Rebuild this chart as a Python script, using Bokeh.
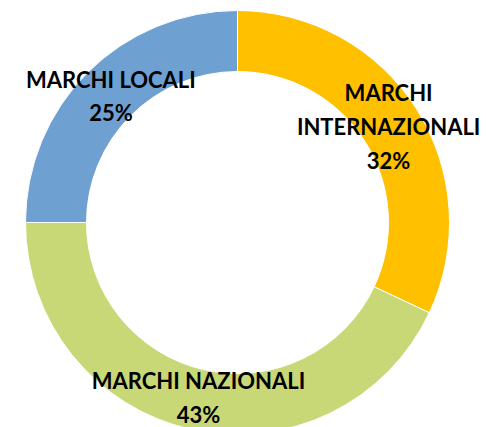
import math
from bokeh.plotting import figure
from bokeh.models import Range1d, ColumnDataSource
from bokeh.core.properties import value
from bokeh.embed import file_html
from bokeh.resources import INLINE

# ---- data ----
categories = ["MARCHI\nINTERNAZIONALI", "MARCHI NAZIONALI", "MARCHI LOCALI"]
shares = [32, 43, 25]
colors = ["#FFC000", "#C9D877", "#6FA0D2"]

# ---- layout ----
cx, cy = 237, -222
r_in, r_out, r_lab = 151, 212, 179

total = sum(shares)
starts, ends, lx, ly, labels = [], [], [], [], []
cum = 0.0
for c, s in zip(categories, shares):
    a0 = math.pi / 2 - 2 * math.pi * cum / total
    cum += s
    a1 = math.pi / 2 - 2 * math.pi * cum / total
    starts.append(a0)
    ends.append(a1)
    mid = (a0 + a1) / 2
    lx.append(cx + r_lab * math.cos(mid))
    ly.append(cy + r_lab * math.sin(mid))
    labels.append(f"{c}\n{s}%")

src = ColumnDataSource(dict(start=starts, end=ends, color=colors,
                            lx=lx, ly=ly, label=labels))

p = figure(width=486, height=427, output_backend="svg", toolbar_location=None,
           x_range=Range1d(0, 486), y_range=Range1d(-427, 0),
           min_border=0)
p.axis.visible = False
p.grid.visible = False
p.outline_line_color = None
p.background_fill_color = "white"

p.annular_wedge(x=cx, y=cy, inner_radius=r_in, outer_radius=r_out,
                start_angle="start", end_angle="end", direction="clock",
                fill_color="color", line_color="white", line_width=1, source=src)

p.text(x="lx", y="ly", text="label", source=src,
       text_font=value("Lato"), text_font_style="bold", text_font_size="22px",
       text_color="black", text_align="center", text_baseline="middle",
       text_line_height=1.25)

open("out.html", "w").write(file_html(p, INLINE))
